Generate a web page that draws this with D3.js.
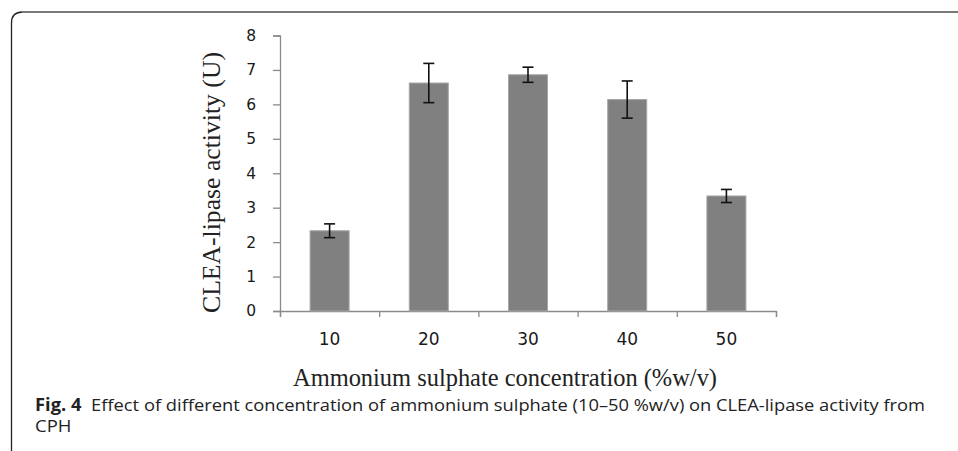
<!DOCTYPE html>
<html>
<head>
<meta charset="utf-8">
<script src="https://cdn.jsdelivr.net/npm/d3@7"></script>
<style>
  body { margin: 0; background: #fff; }
</style>
</head>
<body>
<script>
// data
var categories = ['10', '20', '30', '40', '50'];
var activity = [2.33, 6.62, 6.86, 6.14, 3.34];
var errors = [0.2, 0.57, 0.22, 0.54, 0.19];
var yTicks = [0, 1, 2, 3, 4, 5, 6, 7, 8];

var svgwidth = 958, svgheight = 451,
    plot = { left: 280, right: 776, top: 35.5, bottom: 311 };

var svg = d3.select('body')
    .append('svg')
    .attr('width', svgwidth)
    .attr('height', svgheight);

// frame round the figure (left edge dark, top edge gray)
svg.append('path')
    .attr('d', 'M11.5,451 L11.5,23 Q11.5,12 22.5,12')
    .attr('fill', 'none')
    .attr('stroke', '#222')
    .attr('stroke-width', 1.3);
svg.append('path')
    .attr('d', 'M22,12 L958,12')
    .attr('fill', 'none')
    .attr('stroke', '#7a7a7a')
    .attr('stroke-width', 2);

var yscale = d3.scaleLinear()
    .domain([0, 8])
    .range([plot.bottom, plot.top]);

var xband = d3.scaleBand()
    .domain(categories)
    .range([plot.left, plot.right]);

// tick marks on the x axis sit between categories
var xedges = d3.scaleLinear()
    .domain([0, categories.length])
    .range([plot.left, plot.right]);

var axisColor = '#8a8a8a';

//y axis
var yaxis = svg.append('g')
    .attr('transform', 'translate(' + plot.left + ',0)')
    .call(d3.axisLeft(yscale).tickValues(yTicks).tickSize(7).tickPadding(17).tickFormat(d3.format('d')));
yaxis.select('.domain').attr('stroke', axisColor).attr('stroke-width', 1.3);
yaxis.selectAll('.tick line').attr('stroke', axisColor).attr('stroke-width', 1.3);
yaxis.selectAll('.tick text')
    .attr('font-family', 'DejaVu Sans, Verdana, sans-serif')
    .attr('font-size', '15.5px')
    .attr('fill', '#1a1a1a');

//x axis: ticks at band edges, labels at band centres
var xaxis = svg.append('g')
    .attr('transform', 'translate(0,' + plot.bottom + ')')
    .call(d3.axisBottom(xedges).ticks(categories.length).tickSize(6).tickFormat(''));
xaxis.select('.domain').attr('stroke', axisColor).attr('stroke-width', 1.3);
xaxis.selectAll('.tick line').attr('stroke', axisColor).attr('stroke-width', 1.3);

var xlabels = svg.append('g')
    .attr('transform', 'translate(0,' + plot.bottom + ')')
    .call(d3.axisBottom(xband).tickSize(0).tickPadding(22));
xlabels.select('.domain').remove();
xlabels.selectAll('.tick text')
    .attr('font-family', 'DejaVu Sans, Verdana, sans-serif')
    .attr('font-size', '17px')
    .attr('fill', '#1a1a1a');

//bars
var barw = 39;
svg.selectAll('rect.bar')
    .data(activity)
    .enter().append('rect')
    .attr('class', 'bar')
    .attr('x', function (d, i) { return xband(categories[i]) + xband.bandwidth() / 2 - barw / 2; })
    .attr('y', function (d) { return yscale(d); })
    .attr('width', barw)
    .attr('height', function (d) { return plot.bottom - yscale(d); })
    .attr('fill', '#808080')
    .attr('stroke', '#a6a6a6')
    .attr('stroke-width', 1);

//error bars
var cap = 5.5;
var eb = svg.selectAll('g.err')
    .data(activity)
    .enter().append('g')
    .attr('class', 'err')
    .attr('stroke', '#111')
    .attr('stroke-width', 1.6);
eb.append('line')
    .attr('x1', function (d, i) { return xband(categories[i]) + xband.bandwidth() / 2; })
    .attr('x2', function (d, i) { return xband(categories[i]) + xband.bandwidth() / 2; })
    .attr('y1', function (d, i) { return yscale(d + errors[i]); })
    .attr('y2', function (d, i) { return yscale(d - errors[i]); });
eb.append('line')
    .attr('x1', function (d, i) { return xband(categories[i]) + xband.bandwidth() / 2 - cap; })
    .attr('x2', function (d, i) { return xband(categories[i]) + xband.bandwidth() / 2 + cap; })
    .attr('y1', function (d, i) { return yscale(d + errors[i]); })
    .attr('y2', function (d, i) { return yscale(d + errors[i]); });
eb.append('line')
    .attr('x1', function (d, i) { return xband(categories[i]) + xband.bandwidth() / 2 - cap; })
    .attr('x2', function (d, i) { return xband(categories[i]) + xband.bandwidth() / 2 + cap; })
    .attr('y1', function (d, i) { return yscale(d - errors[i]); })
    .attr('y2', function (d, i) { return yscale(d - errors[i]); });

//axis titles
svg.append('text')
    .attr('transform', 'translate(220,182.5) rotate(-90)')
    .attr('text-anchor', 'middle')
    .attr('font-family', 'Liberation Serif, Times New Roman, serif')
    .attr('font-size', '26px')
    .attr('fill', '#222')
    .attr('textLength', 261)
    .attr('lengthAdjust', 'spacingAndGlyphs')
    .text('CLEA-lipase activity (U)');

svg.append('text')
    .attr('x', 293)
    .attr('y', 386)
    .attr('font-family', 'Liberation Serif, Times New Roman, serif')
    .attr('font-size', '26px')
    .attr('fill', '#222')
    .attr('textLength', 424)
    .attr('lengthAdjust', 'spacingAndGlyphs')
    .text('Ammonium sulphate concentration (%w/v)');

//caption - condensed look: larger font squeezed to the measured line width
var capFont = 'Open Sans, Noto Sans, sans-serif', capSize = '17px';
var line1 = svg.append('text')
    .attr('x', 35)
    .attr('y', 411)
    .attr('font-family', capFont)
    .attr('font-size', capSize)
    .attr('fill', '#222');
line1.append('tspan')
    .attr('font-weight', 'bold')
    .text('Fig. 4');
line1.append('tspan')
    .attr('dx', 9)
    .text('Effect of different concentration of ammonium sulphate (10\u201350 %w/v) on CLEA-lipase activity from');
var natural = line1.node().getComputedTextLength(), squeeze = 890 / natural;
line1.attr('textLength', 890).attr('lengthAdjust', 'spacingAndGlyphs');

var line2 = svg.append('text')
    .attr('x', 35)
    .attr('y', 432)
    .attr('font-family', capFont)
    .attr('font-size', capSize)
    .attr('fill', '#222')
    .text('CPH');
line2.attr('textLength', line2.node().getComputedTextLength() * squeeze)
    .attr('lengthAdjust', 'spacingAndGlyphs');
</script>
</body>
</html>
